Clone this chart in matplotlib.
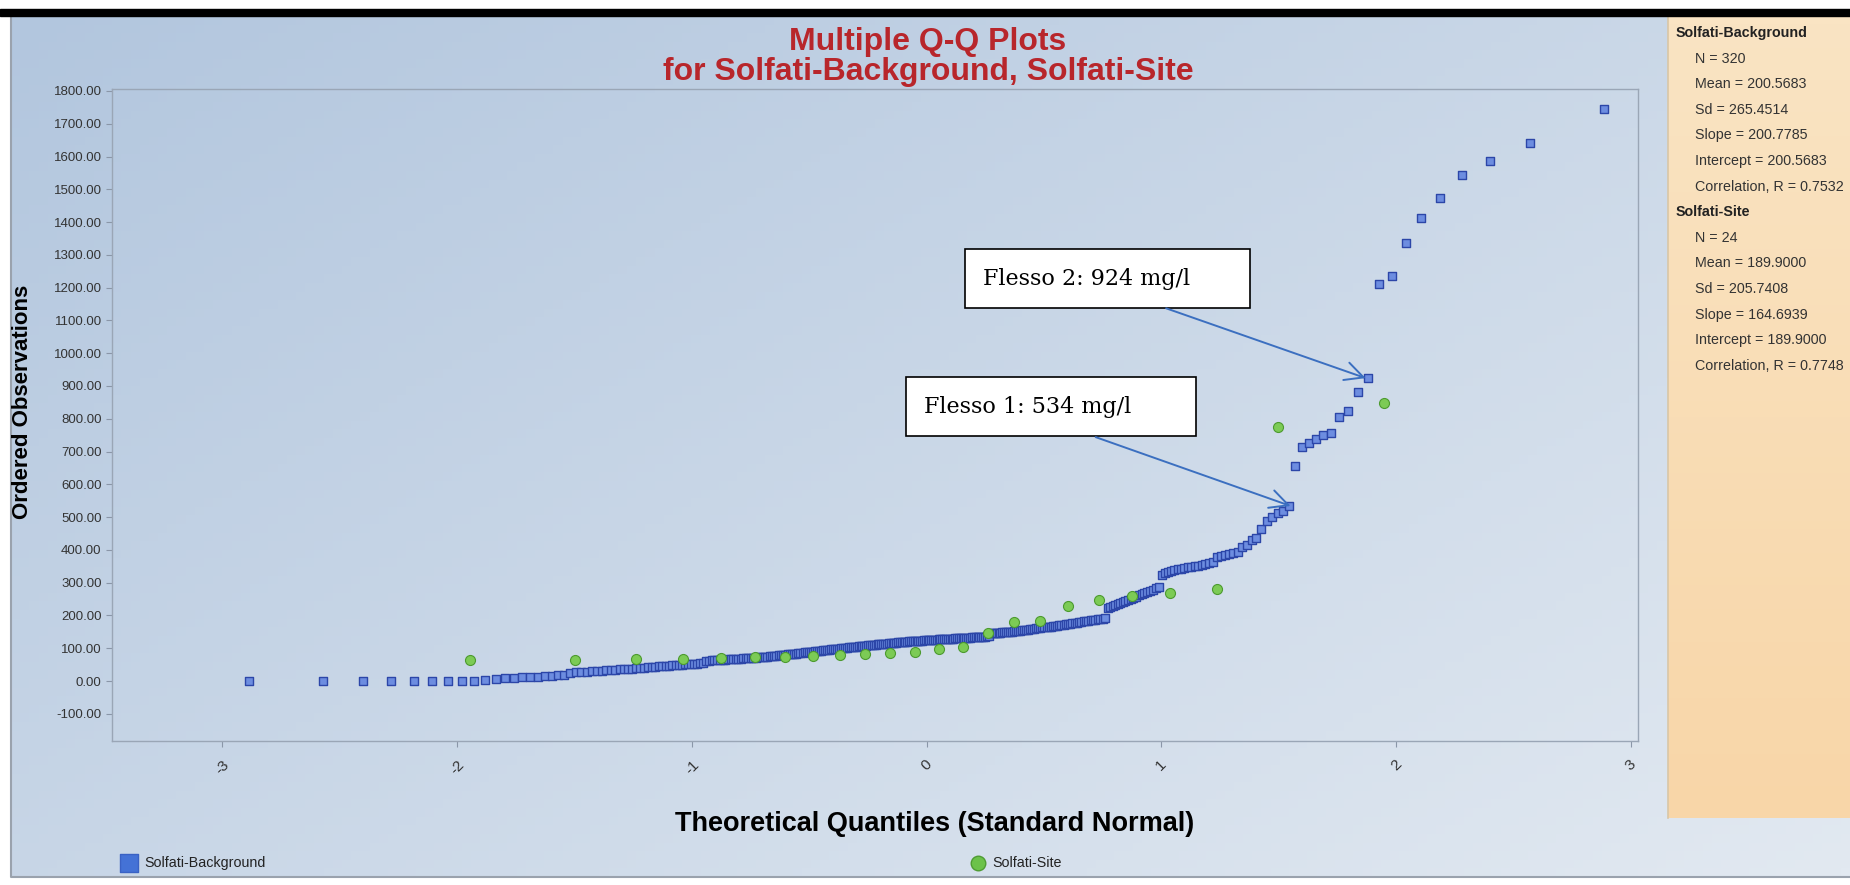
from statistics import NormalDist
import numpy as np
import matplotlib.pyplot as plt
from matplotlib.patches import Rectangle

plt.rcParams['font.family'] = ['Liberation Sans', 'DejaVu Sans']

# ordered observations
background = [
    0, 0, 0, 0, 0, 0, 0, 0, 1, 4,
    7, 9, 10, 11, 12, 13, 14, 15, 17, 18,
    25, 27, 28, 29, 30, 31, 32, 33, 34, 35,
    36, 37, 38, 38, 39, 40, 41, 42, 43, 44,
    45, 45, 46, 47, 48, 48, 49, 50, 51, 51,
    52, 52, 53, 54, 54, 62, 62, 63, 63, 64,
    65, 65, 65, 66, 66, 67, 67, 68, 68, 69,
    69, 70, 70, 71, 71, 72, 73, 73, 74, 74,
    75, 76, 77, 77, 78, 78, 79, 80, 81, 81,
    82, 83, 83, 84, 85, 86, 87, 88, 88, 89,
    90, 91, 91, 92, 93, 94, 94, 95, 96, 97,
    97, 98, 99, 99, 100, 101, 101, 102, 103, 103,
    104, 105, 105, 106, 107, 107, 108, 108, 109, 110,
    110, 111, 111, 112, 112, 113, 113, 114, 114, 115,
    116, 116, 117, 117, 118, 118, 119, 119, 120, 120,
    121, 121, 121, 122, 122, 122, 123, 123, 124, 124,
    125, 125, 125, 126, 126, 126, 127, 127, 127, 128,
    128, 128, 129, 129, 129, 130, 130, 130, 131, 131,
    131, 132, 132, 132, 133, 133, 133, 134, 134, 134,
    135, 135, 136, 136, 145, 145, 146, 146, 147, 147,
    148, 148, 149, 150, 150, 151, 152, 152, 153, 154,
    155, 155, 156, 157, 158, 159, 160, 161, 162, 163,
    164, 164, 165, 166, 166, 167, 168, 169, 170, 171,
    172, 173, 174, 175, 176, 177, 178, 179, 180, 182,
    183, 184, 185, 186, 187, 188, 189, 190, 193, 222,
    225, 228, 231, 234, 237, 240, 243, 246, 249, 253,
    257, 261, 265, 269, 272, 276, 279, 283, 287, 323,
    330, 333, 336, 339, 341, 343, 345, 347, 349, 351,
    352, 355, 358, 361, 364, 378, 381, 384, 387, 390,
    394, 409, 415, 430, 436, 463, 489, 500, 512, 520,
    534, 655, 713, 725, 738, 750, 756, 805, 824, 881,
    924, 1211, 1236, 1335, 1411, 1473, 1543, 1586, 1641, 1744,
]
site = [63, 65, 66, 66, 69, 72, 73, 76, 79, 83, 86, 89,
        98, 105, 145, 179, 184, 229, 247, 259, 267, 281, 774, 848]

series_names = ['Solfati-Background', 'Solfati-Site']
bg_stats = ['N = 320', 'Mean = 200.5683', 'Sd = 265.4514', 'Slope = 200.7785',
            'Intercept = 200.5683', 'Correlation, R = 0.7532']
site_stats = ['N = 24', 'Mean = 189.9000', 'Sd = 205.7408', 'Slope = 164.6939',
              'Intercept = 189.9000', 'Correlation, R = 0.7748']
y_ticks = list(range(-100, 1900, 100))
x_ticks = [-3, -2, -1, 0, 1, 2, 3]


def normal_scores(n):
    # Blom plotting positions
    nd = NormalDist()
    return [nd.inv_cdf((i - 0.375) / (n + 0.25)) for i in range(1, n + 1)]


fig = plt.figure(figsize=(18.5, 8.85), dpi=100)
fig.patch.set_facecolor('white')

# backdrop drawn in pixel coordinates
bgax = fig.add_axes([0, 0, 1, 1], zorder=0)
bgax.set_xlim(0, 1850)
bgax.set_ylim(885, 0)
bgax.axis('off')

gx, gy = np.meshgrid(np.linspace(0, 1, 200), np.linspace(0, 1, 100))
t = np.clip(0.55 * gx + 0.45 * gy, 0, 1)[..., None]
c0 = np.array([178, 198, 222]) / 255
c1 = np.array([226, 233, 241]) / 255
bgax.imshow(c0 + (c1 - c0) * t, extent=(11, 1850, 877, 16), aspect='auto', zorder=0)
bgax.plot([11, 11, 1850], [16, 877, 877], color='#9aa2ad', lw=1.5, zorder=1)

pt = np.linspace(0, 1, 100)[:, None, None]
p0 = np.array([250, 228, 195]) / 255
p1 = np.array([248, 214, 168]) / 255
bgax.imshow(np.repeat(p0 + (p1 - p0) * pt, 2, axis=1), extent=(1668, 1850, 818, 16),
            aspect='auto', zorder=1)
bgax.plot([1668, 1668], [16, 818], color='#d9c6a6', lw=1.2, zorder=2)
bgax.add_patch(Rectangle((0, 9), 1850, 7, color='black', zorder=3))

bgax.text(928, 42, 'Multiple Q-Q Plots', ha='center', va='center',
          fontsize=23, fontweight='bold', color='#b8262b')
bgax.text(928, 72, 'for ' + ', '.join(series_names), ha='center', va='center',
          fontsize=23, fontweight='bold', color='#b8262b')

# stats panel
y = 33
for name, lines in zip(series_names, [bg_stats, site_stats]):
    bgax.text(1676, y, name, fontsize=10.3, fontweight='bold', color='#222222', va='center')
    y += 25.6
    for line in lines:
        bgax.text(1695, y, line, fontsize=10.3, color='#333333', va='center')
        y += 25.6

# bottom legend
bgax.scatter([129], [863], marker='s', s=150, color='#4472d6', edgecolors='#3a62c4', zorder=4)
bgax.text(144, 863, series_names[0], fontsize=10.3, color='#222222', va='center')
bgax.scatter([978], [863], marker='o', s=110, color='#6cc24a', edgecolors='#4f9c34', zorder=4)
bgax.text(992, 863, series_names[1], fontsize=10.3, color='#222222', va='center')

# main plot
ax = fig.add_axes([112 / 1850, 1 - 741 / 885, 1526 / 1850, 652 / 885], zorder=2)
ax.set_facecolor('none')

ax.scatter(normal_scores(len(background)), background, marker='s', s=32,
           color='#6d8de0', edgecolors='#2c46a8', linewidths=1.0, zorder=3)
ax.scatter(normal_scores(len(site)), site, marker='o', s=52,
           color='#7ccb55', edgecolors='#4c9a2f', linewidths=0.8, zorder=4)

ax.set_xlim(-3.47, 3.03)
ax.set_ylim(-183, 1806)
ax.set_yticks(y_ticks)
ax.set_yticklabels(['%.2f' % v for v in y_ticks])
ax.set_xticks(x_ticks)
ax.set_xticklabels([str(v) for v in x_ticks], rotation=45, ha='center', va='top')
ax.tick_params(axis='both', direction='out', length=4, color='#8a96a8',
               labelcolor='#333333', labelsize=9.5)
ax.tick_params(axis='x', pad=8, labelsize=11)
for sp in ax.spines.values():
    sp.set_color('#9aa6b6')
    sp.set_linewidth(1)

ax.set_ylabel('Ordered Observations', fontsize=16, fontweight='bold', color='black')
ax.yaxis.set_label_coords(-0.052, 0.52)
ax.set_xlabel('Theoretical Quantiles (Standard Normal)', fontsize=19.5,
              fontweight='bold', color='black')
ax.xaxis.set_label_coords(0.539, -0.108)

# annotation boxes
for (x0, x1, y0, y1, tx, ty, label, tip, tail) in [
        (0.162, 1.379, 1137, 1317, 0.238, 1227, 'Flesso 2: 924 mg/l', (1.87, 924), (1.02, 1137)),
        (-0.089, 1.149, 747, 927, -0.013, 837, 'Flesso 1: 534 mg/l', (1.55, 534), (0.72, 744))]:
    ax.add_patch(Rectangle((x0, y0), x1 - x0, y1 - y0, facecolor='white',
                           edgecolor='black', lw=1.2, zorder=5))
    ax.text(tx, ty, label, ha='left', va='center', fontsize=16,
            fontfamily='DejaVu Serif', color='black', zorder=6)
    ax.annotate('', xy=tip, xytext=tail, zorder=6,
                arrowprops=dict(arrowstyle='->,head_length=0.6,head_width=0.3',
                                mutation_scale=22, color='#3b6fc0', lw=1.4,
                                shrinkA=0, shrinkB=0))

fig.savefig('out.png', dpi=100)
